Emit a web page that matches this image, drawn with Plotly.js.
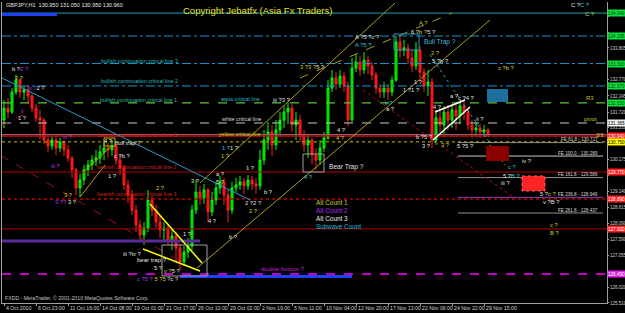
<!DOCTYPE html>
<html><head><meta charset="utf-8">
<script src="https://cdn.plot.ly/plotly-3.0.1.min.js"></script>
<style>html,body{margin:0;padding:0;background:#000;}#c{width:625px;height:313px;}</style>
</head><body><div id="c"></div>
<script>
// ---- Data (GBPJPY H1 candles, sampled) ----
const opens  = [131.46,131.85,131.72,132.37,132.76,132.37,132.44,132.24,131.85,131.53,131.46,130.81,130.62,130.81,130.55,130.75,130.49,130.23,129.84,129.25,129.51,129.84,130.00,130.16,130.23,130.42,130.55,130.49,130.62,130.16,129.90,129.35,129.02,128.53,128.05,127.72,127.95,128.86,128.53,128.14,127.88,127.95,127.56,127.69,127.30,126.84,127.17,127.36,128.53,129.12,128.93,129.19,128.47,128.86,129.25,129.45,129.02,128.53,129.25,129.35,129.45,129.32,129.51,129.38,129.32,130.16,130.81,131.07,130.65,131.14,131.46,131.72,131.85,131.30,131.46,130.97,130.65,130.81,130.32,130.16,130.55,130.88,132.50,132.83,132.63,132.89,132.57,131.46,133.15,133.35,133.09,133.41,133.22,132.93,132.50,132.37,132.50,132.37,132.76,134.00,133.74,133.81,133.48,133.22,133.74,133.02,132.57,132.70,130.81,131.53,131.30,131.72,131.46,131.79,131.59,131.92,131.72,131.30,131.14,131.20,131.07,131.14];
const highs  = [132.11,132.18,132.50,132.93,132.83,132.57,132.60,132.31,131.98,131.79,131.53,130.91,130.91,130.94,130.88,130.81,130.65,130.29,129.90,129.71,130.00,130.16,130.32,130.49,130.65,130.75,130.71,130.81,130.68,130.32,130.00,129.51,129.19,128.70,128.21,128.14,129.19,128.99,128.70,128.37,128.14,128.05,127.88,127.82,127.43,127.36,127.62,128.70,129.51,129.32,129.38,129.25,129.12,129.45,129.64,129.58,129.19,129.45,129.58,129.64,129.58,129.67,129.64,129.58,130.49,131.14,131.40,131.30,131.46,131.72,131.92,132.02,131.98,131.72,131.63,131.14,130.97,130.88,130.55,130.81,131.07,132.76,133.09,133.02,133.09,133.02,132.70,133.48,133.61,133.54,133.67,133.54,133.35,133.02,132.63,132.70,132.63,132.89,134.20,134.20,134.07,133.94,133.74,134.00,133.87,133.15,133.09,132.83,131.79,131.85,131.92,131.95,131.98,132.02,132.11,132.11,131.85,131.46,131.40,131.33,131.30,131.20];
const lows   = [131.20,131.53,131.66,132.28,132.18,132.11,131.98,131.72,131.40,130.81,130.68,130.42,130.49,130.32,130.42,130.29,130.10,129.58,129.02,128.96,129.35,129.64,129.84,129.97,130.03,130.16,130.23,130.29,130.00,129.67,129.19,128.76,128.37,127.82,127.56,127.40,127.82,128.34,127.95,127.62,127.56,127.36,127.23,126.84,126.58,126.71,126.97,127.23,128.40,128.70,128.73,128.14,128.34,128.70,129.06,128.70,128.14,128.40,129.12,129.19,129.06,129.19,129.19,129.06,129.19,130.00,130.49,130.29,130.49,130.94,131.20,131.33,131.07,130.81,130.75,130.42,130.23,130.03,129.84,130.00,130.42,130.81,132.37,132.44,132.50,132.37,131.27,131.40,133.02,132.89,132.96,132.96,132.76,132.31,132.18,132.18,132.11,132.24,132.70,133.48,133.54,133.28,133.02,133.09,132.83,132.37,132.24,130.55,130.65,131.07,131.01,131.14,131.20,131.14,131.33,131.46,131.14,130.88,130.91,130.88,130.91,130.91];
const closes = [131.85,131.72,132.37,132.76,132.37,132.44,132.24,131.85,131.53,131.46,130.81,130.62,130.81,130.55,130.75,130.49,130.23,129.84,129.25,129.51,129.84,130.00,130.16,130.23,130.42,130.55,130.49,130.62,130.16,129.90,129.35,129.02,128.53,128.05,127.72,127.95,128.86,128.53,128.14,127.88,127.95,127.56,127.69,127.30,126.84,127.17,127.36,128.53,129.12,128.93,129.19,128.47,128.86,129.25,129.45,129.02,128.53,129.25,129.35,129.45,129.32,129.51,129.38,129.32,130.16,130.81,131.07,130.65,131.14,131.46,131.72,131.85,131.30,131.46,130.97,130.65,130.81,130.32,130.16,130.55,130.88,132.50,132.83,132.63,132.89,132.57,131.46,133.15,133.35,133.09,133.41,133.22,132.93,132.50,132.37,132.50,132.37,132.76,134.00,133.74,133.81,133.48,133.22,133.74,133.02,132.57,132.70,130.81,131.53,131.30,131.72,131.46,131.79,131.59,131.92,131.72,131.30,131.14,131.20,131.07,131.14,130.96];
const barIndex = opens.map((_, i) => i);

const dateLabels = ['4 Oct 2010','6 Oct 23:00','11 Oct 16:00','14 Oct 08:00','19 Oct 01:00','21 Oct 17:00','26 Oct 10:00','29 Oct 02:00','2 Nov 19:00','5 Nov 11:00','10 Nov 04:00','12 Nov 20:00','17 Nov 13:00','22 Nov 06:00','24 Nov 22:00','29 Nov 15:00'];
const dateTickBars = [0,8,16,24,32,40,48,56,64,72,80,88,96,104,112,120];

const priceTicks = [125.510,126.020,126.520,127.055,127.590,128.090,128.615,129.140,129.650,130.175,130.690,131.210,131.720,132.245,132.770,133.290,133.805,134.325,134.840];
// tick labels hidden under the price tags in the reference
const hiddenTicks = [126.520,129.650,130.690,133.290,134.325,134.840];

// horizontal levels
const levelPrices = [134.940,134.195,133.300,132.570,132.020,131.365,130.990,130.940,130.750,129.770,128.890,127.920,126.450];
const levelTags   = ['134.940','134.195','133.300','132.570','132.020','131.365',null,'130.940','130.750','129.770','128.890','127.920','126.450'];
// Fibonacci expansion levels
const fePrices = [130.727,130.289,129.589,128.946,128.437];
const feLabels = ['FE 61.8 - 130.727','FE 100.0 - 130.289','FE 161.8 - 129.589','FE 236.8 - 128.946','FE 261.8 - 128.437'];

// ---- pixel helpers (layout only) ----
const X = px => (px - 4) / 4;
const Y = py => 135.366 - 0.03253 * py;
const F = 'Liberation Sans, Arial, sans-serif';
const W='#e0e0e0', O='#d4cc30', P='#b838f0', C='#30c8d8';
const s = (c,t) => `<span style="color:${c}">${t}</span>`;

const levelStyles = [
  {color:'#1aa0a8',width:1,dash:'solid'},
  {color:'#1a90c8',width:1,dash:'dashdot'},
  {color:'#1a90c8',width:1,dash:'dashdot'},
  {color:'#1a90c8',width:1,dash:'dashdot'},
  {color:'#60c040',width:1.2,dash:'dash'},
  {color:'#c8c8c8',width:1,dash:'dash'},
  {color:'#906070',width:1,dash:'solid'},
  {color:'#c01010',width:1.6,dash:'solid'},
  {color:'#c8c000',width:1,dash:'dot'},
  {color:'#b00000',width:1,dash:'solid'},
  {color:'#c00000',width:1.5,dash:'dot'},
  {color:'#b00000',width:1,dash:'solid'},
  {color:'#c000c0',width:2,dash:'dash'}
];
const tagColors = ['#10e040','#10e040','#10e040','#10e040','#10e040','#f0f0f0',null,'#ff2020','#ffff00','#ff2020','#ff2020','#ff2020','#e020e0'];
const tagText   = ['#004000','#004000','#004000','#004000','#004000','#000','#000','#fff','#000','#fff','#fff','#fff','#fff'];

const shapes = [];
levelPrices.forEach((p,i)=>shapes.push({type:'line',xref:'paper',x0:0,x1:1,yref:'y',y0:p,y1:p,line:levelStyles[i]}));
const feColors = ['#909090','#c8c8c8','#909090','#9040b0','#909090'];
fePrices.forEach((p,i)=>shapes.push({type:'line',xref:'x',yref:'y',x0:X(458),x1:X(603),y0:p,y1:p,line:{color:feColors[i],width:1}}));

function seg(x0,y0,x1,y1,color,width,dash){shapes.push({type:'line',xref:'x',yref:'y',x0:X(x0),y0:Y(y0),x1:X(x1),y1:Y(y1),line:{color,width:width||1,dash:dash||'solid'}});}
function rect(x0,y0,x1,y1,fill,line){shapes.push({type:'rect',xref:'x',yref:'y',x0:X(x0),y0:Y(y0),x1:X(x1),y1:Y(y1),fillcolor:fill||'rgba(0,0,0,0)',line:line||{width:0}});}

// thick segments
seg(2,14.5,57,14.5,'#2040ff',3);
seg(0,241,200,241,'#5a2ca0',3);
seg(180,276.5,352,276.5,'#2040ff',3);
// trend lines
seg(0,77,250,200,'#2a9ad0',1);
seg(0,155,200,273,'#a01010',1,'dash');
seg(0,127,45,103,'#a01010',1,'dash');
seg(363,90,513,197,'#b01010',1,'dot');
seg(430,55,490,143,'#30a0a0',1,'dot');
seg(490,145,505,165,'#c8b400',1,'dot');
seg(200,183,395,3,'#a89a20',1);
seg(300,78,452,13,'#a89a20',1,'dash');
seg(197,268,490,20,'#a89a20',1);
seg(83,172,113,145,'#a89a20',1);
seg(80,197,105,165,'#a89a20',1);
seg(150,204,202,263,'#ffff00',1.5);
seg(143,249,200,271,'#ffff00',1.5);
seg(435,112,465,100,'#ffffff',1.5);
seg(433,140,470,107,'#ffffff',1.5);
// boxes
rect(486,146,509,161,'#8b0000');
rect(522,176,545,191,'#ff2424',{color:'#ff6060',width:1,dash:'dot'});
rect(487,89,508,102,'#1e6e9e');
rect(394,34,419,50,null,{color:'#3090c0',width:1});
rect(303,154,324,172,null,{color:'#a0a0a0',width:1});
rect(162,245,207,276,null,{color:'#a0a0a0',width:1});
rect(104,138,115,146,null,{color:'#c8b400',width:1});

const anns = [];
function txt(px,py,text,color,size,anchor){anns.push({xref:'x',yref:'y',x:X(px),y:Y(py),text,showarrow:false,xanchor:anchor||'center',yanchor:'middle',font:{family:F,size:size||6,color:color||W}});}

txt(257,10,'Copyright Jebatfx (Asia Fx Traders)','#e8e020',9.5);
anns.push({xref:'paper',yref:'paper',x:0.003,y:0.99,xanchor:'left',yanchor:'middle',showarrow:false,text:'GBPJPY,H1  130.950 131.050 130.950 130.960',font:{family:F,size:5.5,color:'#e8e8e8'}});
txt(3,298,'FXDD - MetaTrader, © 2001-2010 MetaQuotes Software Corp.','#c0c0c0',5.2,'left');

txt(139,61,'bullish continuation critical line 3','#20b8b8',5.4);
txt(139,81,'bullish continuation critical line 2','#20b8c0',5.4);
txt(138,100,'bullish continuation critical line 1','#30b8a0',5.4);
txt(240,99,'aqua critical line','#20b8c8',5.4);
txt(241,119,'white critical line','#d8d8d8',5.4);
txt(240,134,'yellow critical line','#c8c020',5.4);
txt(137,135,'bearish continuation critical line 1','#d02020',5.4);
txt(136,167,'bearish continuation critical line 2','#d02020',5.4);
txt(136,194,'bearish continuation critical line 3','#d02020',5.4);
txt(283,269,'double bottom ?','#c020d0',6);
txt(152,260,'bear trap ?',W,6);
txt(346,167,'Bear Trap ?',W,6.6);
txt(440,42,'Bull Trap ?','#40b8d8',6.6);
txt(314,203,'Alt Count 1','#d0c030',6.4,'left');
txt(314,211,'Alt Count 2','#b020f0',6.4,'left');
txt(314,219,'Alt Count 3','#e8e8e8',6.4,'left');
txt(314,227,'Subwave Count','#20b8d0',6.4,'left');
txt(590,98,'R3','#c8c020',6);
txt(590,119,'pivot','#c8c020',6);
txt(600,135,'S3','#c8c020',6);

feLabels.forEach((t,i)=>anns.push({xref:'x',yref:'y',x:X(600),y:fePrices[i],yshift:3,text:t,showarrow:false,xanchor:'right',yanchor:'middle',font:{family:F,size:4.6,color:'#d8d8d8'}}));

const waveLabels = [
 [20,69, s(W,'b ?')+s(P,'2 ?')],[19,78, s(O,'2 ?')],[37,88, s(P,'ii ?')+s(W,'2 ?')],[22,111, s(P,'ii')],[22,118, s(W,'1 ?')],
 [55,166, s(P,'iii ?')],[68,195, s(O,'3 ?')],[66,202, s(P,'3 ?? ')+s(W,'3 ?')],[108,141, s(W,'4 ?')],[128,143, s(W,'bull trap ?')],
 [122,156, s(W,'c ?b ?')],[112,176, s(W,'1 ?')],[68,137, s(P,'iv ?')],[160,188, s(O,'2 ?')],[132,254, s(W,'iii ?iv ?')],
 [187,234, s(W,'1 ?')],[158,268, s(W,'5 ?')],[172,271, s(O,'v ?')+s(W,'5 ?')],[158,279, s(P,'c ?5 ?')+' '+s(O,'5 ?5 ')+s(W,'?c ?')],
 [195,181, s(W,'3 ?')],[220,174, s(W,'a ?')],[220,182, s(W,'5 ?')],[212,221, s(W,'4 ?')],[233,237, s(W,'b ?')],
 [253,203, s(W,'2 ?2 ?')],[253,211, s(O,'2 ?')],[250,168, s(W,'1 ?')],[230,148, s(C,'1 ?')+s(W,'1 ?')],[225,156, s(O,'1 ?')],
 [268,192, s(W,'b ?')],[308,177, s(C,'4 ?')],[282,100, s(W,'iii ?3 ?')],[312,67, s(O,'3 ?3 ?')+s(W,'5 ?')],
 [341,130, s(W,'4 ?')],[340,138, s(O,'4 ?')],[367,37, s(W,'A ?5 ?c ?')],[363,45, s(C,'A ?5 ?')],[423,23, s(O,'A ?')],
 [423,32, s(W,'6 ?')+s(O,'b ?')+s(W,'5 ?')],[435,53, s(O,'2 ?')],[440,61, s(W,'5 ?b ?')],[506,68, s(O,'c ?b ?')],
 [418,82, s(W,'1 ?')],[411,90, s(W,'1 ?1 ?')],[389,103, s(C,'ii ?')],[390,109, s(W,'a ?')],[454,96, s(W,'a ?')],
 [466,98, s(W,'c ?4 ?')],[437,107, s(W,'4 ?')],[480,119, s(W,'ii ?')],[424,137, s(W,'b ?5 ?')],[426,146, s(W,'3 ?')],
 [445,145, s(O,'3 ?')],[465,146, s(W,'5 ?5 ?')],[527,161, s(W,'iv ?')],[512,167, s(C,'c ?')],[512,176, s(W,'5 ?')+s(C,'B ?')],
 [505,183, s(W,'iii ?')],[548,194, s(W,'5 ?')+s(O,'c ?')],[551,202, s(W,'v ?B ?')],[554,225, s(O,'c ?')],[554,233, s(O,'B ?')],
 [580,5, s(W,'C ?')+s(C,'C ?')],[590,14, s(O,'C ?')]
];
waveLabels.forEach(l=>txt(l[0],l[1],l[2],W,5.8));

// right-axis price tags
levelPrices.forEach((p,i)=>{ if(!levelTags[i]) return;
  anns.push({xref:'paper',yref:'y',x:1,y:p,xanchor:'left',yanchor:'middle',showarrow:false,text:levelTags[i],
    bgcolor:tagColors[i],width:17,height:6,borderpad:0,font:{family:F,size:4.6,color:tagText[i]}});
});
// date labels along the bottom (MetaTrader style: label starts at its tick)
dateLabels.forEach((t,i)=>anns.push({xref:'x',yref:'paper',x:dateTickBars[i],y:0,xanchor:'left',yanchor:'top',yshift:-1,xshift:1,
  showarrow:false,text:t,borderpad:0,font:{family:F,size:5.2,color:'#d0d0d0'}}));

const trace = {type:'candlestick',x:barIndex,open:opens,high:highs,low:lows,close:closes,
  increasing:{line:{color:'#00ff00',width:1},fillcolor:'#00c000'},
  decreasing:{line:{color:'#ff2020',width:1},fillcolor:'#ff0000'},
  whiskerwidth:0,hoverinfo:'skip',showlegend:false};

const layout = {
  width:625,height:313,margin:{l:2,r:18,t:2,b:10},
  paper_bgcolor:'#000',plot_bgcolor:'#000',showlegend:false,
  xaxis:{range:[-0.5,150.75],rangeslider:{visible:false},showgrid:false,zeroline:false,
    tickvals:dateTickBars,ticks:'outside',ticklen:2,tickcolor:'#a0a0a0',showticklabels:false,
    showline:true,linecolor:'#a0a0a0',linewidth:1},
  yaxis:{side:'right',range:[125.509,135.301],showgrid:false,zeroline:false,
    tickvals:priceTicks,ticktext:priceTicks.map(v=>hiddenTicks.includes(v)?'':v.toFixed(3)),ticks:'outside',ticklen:1,tickcolor:'#a0a0a0',
    tickfont:{family:F,size:4.5,color:'#d0d0d0'},showline:true,mirror:true,linecolor:'#a0a0a0',linewidth:1},
  shapes, annotations:anns
};
Plotly.newPlot('c',[trace],layout,{staticPlot:true,displayModeBar:false});
</script></body></html>
